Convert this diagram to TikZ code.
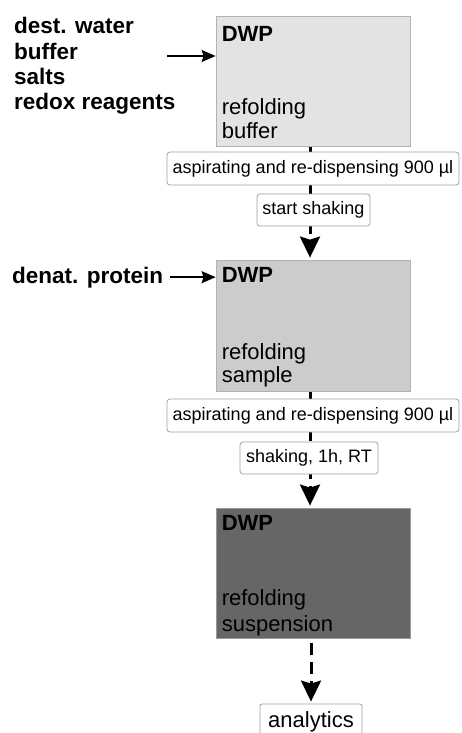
\documentclass[tikz,border=0pt]{standalone}
\usepackage{fontspec}
\setmainfont{Liberation Sans}
\usetikzlibrary{arrows.meta,calc}
\pgfdeclarelayer{back}
\pgfdeclarelayer{bg}
\pgfsetlayers{back,bg,main}
\definecolor{plateA}{HTML}{E3E3E3}
\definecolor{plateB}{HTML}{CCCCCC}
\definecolor{plateC}{HTML}{666666}
\definecolor{labelline}{HTML}{A0A0A0}
\begin{document}
\begin{tikzpicture}[x=1pt,y=-1pt,
  plate/.style={draw=gray!60, line width=0.8pt, minimum width=194pt, inner sep=0pt},
  stepbox/.style={draw=labelline, fill=white, rounded corners=3pt, line width=0.8pt,
    inner sep=0pt, minimum height=33pt, font=\fontsize{18}{21}\selectfont},
  boxtitle/.style={anchor=base west, inner sep=0pt, font=\fontsize{22}{26}\selectfont\bfseries},
  boxtext/.style={anchor=base west, inner sep=0pt, font=\fontsize{22}{26}\selectfont},
  lefttext/.style={anchor=base west, inner sep=0pt, font=\fontsize{22.5}{26}\selectfont\bfseries},
  conn/.style={line width=3pt, dash pattern=on 12pt off 7pt,
    -{Stealth[length=21pt,width=20pt,inset=3pt]}, shorten >=2pt},
  feed/.style={line width=1.6pt, -{Stealth[length=14pt,width=12pt,inset=2pt]}}]
\clip (0,0) rectangle (461,733);
\begin{pgfonlayer}{back}
\fill[white] (0,0) rectangle (461,733);
\end{pgfonlayer}

% plates
\node[plate, fill=plateA, minimum height=130pt] (b1) at (313,81) {};
\node[plate, fill=plateB, minimum height=131pt] (b2) at (313,325.5) {};
\node[plate, fill=plateC, draw=gray!80, minimum height=130pt] (b3) at (313,573) {};

% plate texts
\node[boxtitle] (t1) at ($(b1.north west)+(6,26)$) {DWP};
\node[boxtext] (r1) at ($(b1.north west)+(6,99)$) {refolding};
\node[boxtext] (s1) at ($(b1.north west)+(6,123)$) {buffer};
\node[boxtitle] (t2) at ($(b2.north west)+(6,23)$) {DWP};
\node[boxtext] (r2) at ($(b2.north west)+(6,100)$) {refolding};
\node[boxtext] (s2) at ($(b2.north west)+(6,123)$) {sample};
\node[boxtitle] (t3) at ($(b3.north west)+(6,23)$) {DWP};
\node[boxtext] (r3) at ($(b3.north west)+(6,98)$) {refolding};
\node[boxtext] (s3) at ($(b3.north west)+(6,124)$) {suspension};

% step labels
\node[stepbox, minimum width=292pt] (a1) at (313,168.5) {aspirating and re-dispensing 900 µl};
\node[stepbox, minimum width=113pt, minimum height=32pt] (sh1) at (313.5,210) {start shaking};
\node[stepbox, minimum width=292pt] (a2) at (313,415.5) {aspirating and re-dispensing 900 µl};
\node[stepbox, minimum width=138pt, minimum height=32pt] (sh2) at (309,458) {shaking, 1h, RT};
\node[stepbox, minimum width=102pt, minimum height=36pt, rounded corners=2pt,
  font=\fontsize{22}{26}\selectfont] (an) at (311,722) {analytics};

% left texts
\node[lefttext] (l1) at (14,34) {dest. water};
\node[lefttext] (l2) at (14,60) {buffer};
\node[lefttext] (l3) at (14,85) {salts};
\node[lefttext] (l4) at (14,110) {redox reagents};
\node[lefttext] (dp) at (12,283) {denat. protein};

% feed arrows
\coordinate (in1) at (167,56);
\draw[feed] (in1) -- (in1 -| b1.west);
\draw[feed] ([xshift=7pt]dp.east) -- (dp.east -| b2.west);

% vertical connectors
\begin{pgfonlayer}{bg}
\draw[conn] ([xshift=-3pt]b1.south) -- ([xshift=-3pt]b2.north);
\draw[conn] ([xshift=-3pt]b2.south) -- ([xshift=-3pt]b3.north);
\draw[conn, dash phase=14pt] ([xshift=-2pt]b3.south) -- (an.north);
\end{pgfonlayer}
\end{tikzpicture}
\end{document}
